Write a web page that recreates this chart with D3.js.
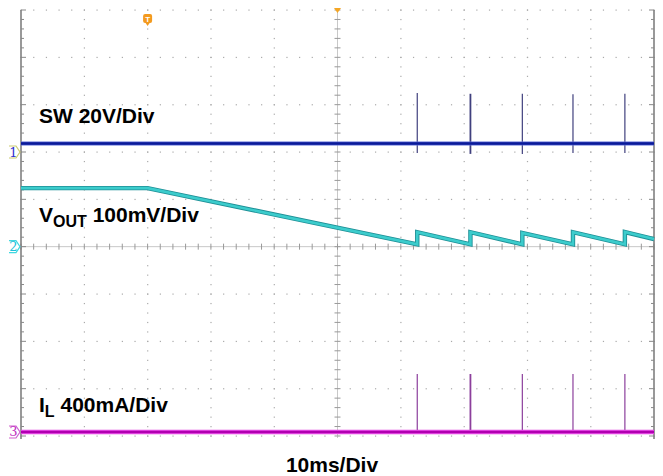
<!DOCTYPE html>
<html lang="en">
<head>
<meta charset="utf-8">
<title>SW, VOUT and IL waveforms</title>
<script src="https://d3js.org/d3.v7.min.js"></script>
<style>
  body { margin: 0; background: #fff; }
  svg { display: block; }
  .lbl { font-family: "Liberation Sans", Arial, sans-serif; font-weight: bold; fill: #000; }
</style>
</head>
<body>
<svg id="scope" width="663" height="476"></svg>
<script>
// ---- data (time in ms, trigger at screen centre) ----
var timeDomain = [-50, 50];               // 10 ms/div, 10 divisions
var triggerTime = -30;                    // "T" marker position

// SW node: 20 V/div, idles near Vout, switching bursts
var swBaseline = 3.6;                     // V
var pulseTimes = [12.6, 21.0, 29.2, 37.2, 45.4];  // ms
var swPeak = [24.9, 24.6, 24.6, 24.4, 24.6];       // V
var swLow = [-0.4, -0.8, -0.8, -0.4, -0.4];        // V

// VOUT: 100 mV/div, AC view relative to its marker
var voutTime = [-50, -30, 12.6, 12.6, 21.0, 21.0, 29.2, 29.2, 37.2, 37.2, 45.4, 45.4, 50];
var voutMv   = [123.6, 123.6, 5, 30.6, 5, 30.6, 5, 29.0, 5, 30.6, 5, 31.0, 16];

// IL: 400 mA/div
var ilBaseline = 0;                       // mA
var ilPeak = [490, 490, 490, 490, 490];   // mA

function draw() {
  var svg = d3.select("#scope");

  var pL = 21, pR = 654, pT = 10, pB = 436;
  var divX = (pR - pL) / 10, divY = (pB - pT) / 9;

  var x = d3.scaleLinear().domain(timeDomain).range([pL, pR]);
  // each channel has its own ground marker on screen
  var ySW = d3.scaleLinear().domain([-120, 60]).range([pB, pT]);     // 0 V at y=152
  var yV  = d3.scaleLinear().domain([-400, 500]).range([pB, pT]);    // 0 mV at y=246.5
  var yIL = d3.scaleLinear().domain([-34, 3566]).range([pB, pT]);    // 0 mA at y=432

  // ---- graticule ----
  var grid = svg.append("g");
  var minorY = d3.range(0, 46).map(function(k){ return pT + k * divY / 5; });
  var minorX = d3.range(0, 51).map(function(k){ return pL + k * divX / 5; });

  // dotted division lines
  d3.range(1, 10).forEach(function(i){
    if (i === 5) return;
    var gx = pL + i * divX;
    minorY.forEach(function(yy){
      grid.append("rect").attr("x", gx - 0.5).attr("y", yy - 0.5).attr("width", 1.2).attr("height", 1.2).attr("fill", "#aaa");
    });
  });
  d3.range(0, 10).forEach(function(j){
    if (j === 5) return;
    var gy = pT + j * divY;
    minorX.forEach(function(xx){
      grid.append("rect").attr("x", xx - 0.5).attr("y", gy - 0.5).attr("width", 1.2).attr("height", 1.2).attr("fill", "#aaa");
    });
  });

  // centre axes with ticks
  var cx = pL + 5 * divX, cy = pT + 5 * divY;
  grid.append("line").attr("x1", cx).attr("x2", cx).attr("y1", pT).attr("y2", pB + 2).attr("stroke", "#c8c8c8");
  grid.append("line").attr("x1", pL).attr("x2", pR).attr("y1", cy).attr("y2", cy).attr("stroke", "#c8c8c8");
  minorY.forEach(function(yy){
    grid.append("line").attr("x1", cx - 3).attr("x2", cx + 3).attr("y1", yy).attr("y2", yy).attr("stroke", "#999");
  });
  minorX.forEach(function(xx){
    grid.append("line").attr("x1", xx).attr("x2", xx).attr("y1", cy - 3).attr("y2", cy + 3).attr("stroke", "#999");
  });

  // frame left / right with inner ticks
  [pL, pR].forEach(function(fx, n){
    var dir = n === 0 ? 1 : -1;
    grid.append("line").attr("x1", fx).attr("x2", fx).attr("y1", pT).attr("y2", pB + 3).attr("stroke", "#777").attr("stroke-width", 1.5);
    minorY.forEach(function(yy, k){
      grid.append("line").attr("x1", fx).attr("x2", fx + dir * (k % 5 === 0 ? 5 : 3))
        .attr("y1", yy).attr("y2", yy).attr("stroke", "#888");
    });
  });

  // ---- traces ----
  var traces = svg.append("g");

  // SW
  traces.selectAll(".swp").data(pulseTimes).enter().append("line")
    .attr("x1", function(d){ return x(d); }).attr("x2", function(d){ return x(d); })
    .attr("y1", function(d, i){ return ySW(swPeak[i]); })
    .attr("y2", function(d, i){ return ySW(swLow[i]); })
    .attr("stroke", "#40407e").attr("stroke-width", function(d, i){ return i === 1 ? 1.8 : 1.2; });
  traces.append("line").attr("x1", x(timeDomain[0])).attr("x2", x(timeDomain[1]))
    .attr("y1", ySW(swBaseline)).attr("y2", ySW(swBaseline))
    .attr("stroke", "#5a6ad8").attr("stroke-width", 4);
  traces.append("line").attr("x1", x(timeDomain[0])).attr("x2", x(timeDomain[1]))
    .attr("y1", ySW(swBaseline)).attr("y2", ySW(swBaseline))
    .attr("stroke", "#0a1a98").attr("stroke-width", 2.4);

  // VOUT
  var vData = voutTime.map(function(t, i){ return [t, voutMv[i]]; });
  var vLine = d3.line().x(function(d){ return x(d[0]); }).y(function(d){ return yV(d[1]); });
  traces.append("path").datum(vData).attr("d", vLine).attr("fill", "none")
    .attr("stroke", "#1e8f96").attr("stroke-width", 4.4);
  traces.append("path").datum(vData).attr("d", vLine).attr("fill", "none")
    .attr("stroke", "#3ccccc").attr("stroke-width", 2.6);

  // IL
  traces.selectAll(".ilp").data(pulseTimes).enter().append("line")
    .attr("x1", function(d){ return x(d); }).attr("x2", function(d){ return x(d); })
    .attr("y1", function(d, i){ return yIL(ilPeak[i]); })
    .attr("y2", yIL(ilBaseline) + 2)
    .attr("stroke", "#8c3f9c").attr("stroke-width", function(d, i){ return i === 1 ? 1.8 : 1.2; });
  traces.append("line").attr("x1", x(timeDomain[0])).attr("x2", x(timeDomain[1]))
    .attr("y1", yIL(ilBaseline)).attr("y2", yIL(ilBaseline))
    .attr("stroke", "#e040e0").attr("stroke-width", 4.5);
  traces.append("line").attr("x1", x(timeDomain[0])).attr("x2", x(timeDomain[1]))
    .attr("y1", yIL(ilBaseline)).attr("y2", yIL(ilBaseline))
    .attr("stroke", "#b000b0").attr("stroke-width", 2);

  // ---- channel markers ----
  function marker(yy, num, edge, fill){
    var g = svg.append("g").attr("transform", "translate(0," + yy + ")");
    g.append("path").attr("d", "M9,-6 L16,-6 L20,0 L16,6 L9,6")
      .attr("fill", "none").attr("stroke", edge).attr("stroke-width", 1.2);
    g.append("text").attr("x", 13.5).attr("y", 4.5).attr("text-anchor", "middle")
      .attr("font-family", "DejaVu Serif, serif").attr("font-size", 13).attr("fill", fill).text(num);
  }
  marker(ySW(0), "1", "#cccc70", "#3030d0");
  marker(yV(0), "2", "#40d8e0", "#20c0d8");
  marker(yIL(0), "3", "#d060d0", "#c030c0");

  // trigger markers
  var tg = svg.append("g").attr("transform", "translate(" + x(triggerTime) + ",0)");
  tg.append("rect").attr("x", -4.5).attr("y", 14).attr("width", 9).attr("height", 9).attr("rx", 2).attr("fill", "#f39a1e");
  tg.append("path").attr("d", "M-2,23 L0,26 L2,23 Z").attr("fill", "#f39a1e");
  tg.append("text").attr("x", 0).attr("y", 22).attr("text-anchor", "middle")
    .attr("font-family", "Liberation Sans, Arial, sans-serif").attr("font-weight", "bold")
    .attr("font-size", 8).attr("fill", "#fff").text("T");
  svg.append("path").attr("d", "M" + (cx - 3.5) + "," + (pT - 2) + " L" + (cx + 3.5) + "," + (pT - 2) + " L" + cx + "," + (pT + 3) + " Z")
    .attr("fill", "#f5a623");

  // ---- labels ----
  svg.append("text").attr("class", "lbl").attr("x", 39).attr("y", 123).attr("font-size", 21).text("SW 20V/Div");

  var vt = svg.append("text").attr("class", "lbl").attr("x", 39).attr("y", 222).attr("font-size", 21);
  vt.append("tspan").text("V");
  vt.append("tspan").attr("font-size", 16).attr("dy", 5).text("OUT");
  vt.append("tspan").attr("dy", -5).text(" 100mV/Div");

  var it = svg.append("text").attr("class", "lbl").attr("x", 39).attr("y", 412).attr("font-size", 21);
  it.append("tspan").text("I");
  it.append("tspan").attr("font-size", 16).attr("dy", 5).text("L");
  it.append("tspan").attr("dy", -5).text(" 400mA/Div");

  svg.append("text").attr("class", "lbl").attr("x", 332).attr("y", 472).attr("font-size", 21)
    .attr("text-anchor", "middle").text("10ms/Div");
}
draw();
</script>
</body>
</html>
